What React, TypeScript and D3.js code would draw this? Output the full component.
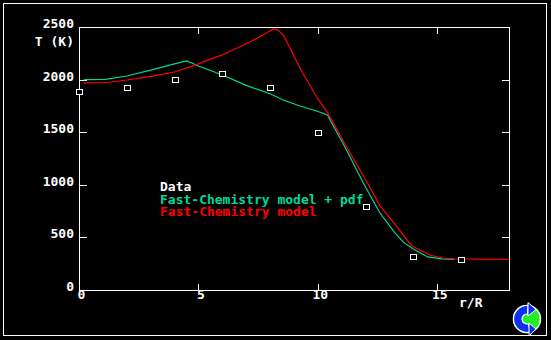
import React from "react";
import * as d3 from "d3";

// ---- data ----
const dataR = [0, 2, 4, 6, 8, 10, 12, 14, 16];
const dataT = [1882, 1920, 1996, 2055, 1920, 1492, 789, 314, 285];

const pdfR = [0.2, 1.1, 2, 3, 4, 4.5, 4.7, 5, 6, 7, 8, 8.55, 9.25, 9.95, 10.4, 11.2, 11.9, 12.6, 13.2, 13.6, 14.0, 14.6, 15.2, 15.7];
const pdfT = [2000, 2003, 2034, 2090, 2150, 2177, 2160, 2129, 2044, 1945, 1865, 1806, 1749, 1702, 1664, 1331, 1017, 732, 551, 450, 390, 314, 295, 292];

const modelR = [0.2, 1.1, 2, 3, 4, 5, 5.5, 6, 6.44, 7.15, 7.85, 8.13, 8.3, 8.55, 9.25, 9.95, 10.42, 11.25, 12.05, 12.6, 13.14, 13.92, 14.69, 15.2, 15.7, 18];
const modelT = [1968, 1970, 1996, 2030, 2072, 2150, 2195, 2235, 2281, 2357, 2443, 2481, 2475, 2424, 2110, 1835, 1681, 1340, 1027, 800, 649, 421, 333, 304, 295, 292];

const yTicks = [0, 500, 1000, 1500, 2000, 2500];
const xTicks = [0, 5, 10, 15];
const legendLabels = ["Data", "Fast-Chemistry model + pdf", "Fast-Chemistry model"];

const GREEN = "#00D898";
const RED = "#FF0000";
const FONT = "'DejaVu Sans Mono', monospace";

export default function App() {
  const W = 551, H = 340;
  const x = d3.scaleLinear().domain([0, 18]).range([79, 509]);
  const y = d3.scaleLinear().domain([0, 2500]).range([290, 27]);
  const line = d3.line<[number, number]>().x(d => x(d[0])).y(d => y(d[1]));
  const pdfPts = pdfR.map((r, i) => [r, pdfT[i]] as [number, number]);
  const modelPts = modelR.map((r, i) => [r, modelT[i]] as [number, number]);

  const txt = { fontFamily: FONT, fontWeight: "bold" as const, fontSize: 13 };
  const deg = Math.PI / 180;
  const cArc = d3.arc()({ innerRadius: 5, outerRadius: 13.5, startAngle: 165 * deg, endAngle: 365 * deg } as any) || "";

  return (
    <svg width={W} height={H} style={{ position: "absolute", left: 0, top: 0, background: "#000" }}>
      <rect x={0} y={0} width={W} height={H} fill="#000" />
      <rect x={3.5} y={3.5} width={543} height={332} fill="none" stroke="#fff" strokeWidth={1} shapeRendering="crispEdges" />
      {/* plot frame */}
      <rect x={x(0) + 0.5} y={y(2500) + 0.5} width={x(18) - x(0)} height={y(0) - y(2500)} fill="none" stroke="#fff" strokeWidth={1} shapeRendering="crispEdges" />
      {/* y ticks */}
      {yTicks.map(t => (
        <g key={"y" + t} shapeRendering="crispEdges" stroke="#fff">
          <line x1={x(0)} x2={x(0) + 8} y1={Math.round(y(t)) + 0.5} y2={Math.round(y(t)) + 0.5} />
          <line x1={x(18) - 7} x2={x(18)} y1={Math.round(y(t)) + 0.5} y2={Math.round(y(t)) + 0.5} />
        </g>
      ))}
      {yTicks.map(t => (
        <text key={"yl" + t} x={74} y={y(t) + 1} textAnchor="end" fill="#fff" {...txt}>{t}</text>
      ))}
      {/* x ticks */}
      {xTicks.map(t => (
        <g key={"x" + t} shapeRendering="crispEdges" stroke="#fff">
          <line x1={Math.round(x(t)) + 0.5} x2={Math.round(x(t)) + 0.5} y1={y(0) - 6} y2={y(0)} />
          <line x1={Math.round(x(t)) + 0.5} x2={Math.round(x(t)) + 0.5} y1={y(2500)} y2={y(2500) + 7} />
        </g>
      ))}
      {xTicks.map(t => (
        <text key={"xl" + t} x={x(t) + 2.5} y={299} textAnchor="middle" fill="#fff" {...txt}>{t}</text>
      ))}
      <text x={74} y={46} textAnchor="end" fill="#fff" {...txt}>T (K)</text>
      <text x={459} y={307} fill="#fff" {...txt}>r/R</text>

      {/* curves */}
      <path d={line(pdfPts) || ""} fill="none" stroke={GREEN} strokeWidth={1.2} />
      <path d={line(modelPts) || ""} fill="none" stroke={RED} strokeWidth={1.2} />

      {/* data squares */}
      {dataR.map((r, i) => (
        <rect key={"d" + i} x={Math.round(x(r)) - 2.5} y={Math.round(y(dataT[i])) - 2.5} width={6} height={5}
          fill="#000" stroke="#fff" strokeWidth={1} shapeRendering="crispEdges" />
      ))}

      {/* legend */}
      {legendLabels.map((l, i) => (
        <text key={l} x={160} y={191 + i * 12.5} fill={["#fff", GREEN, RED][i]} {...txt}>{l}</text>
      ))}

      {/* logo */}
      <g transform="translate(527,319)">
        <circle r={13.5} fill="#22EE22" stroke="#fff" strokeWidth={1.5} />
        <path d={cArc} fill="#1030F0" stroke="#fff" strokeWidth={1.2} />
        <path d="M1,-16.5 L9,-9.5 L1,-3 Z" fill="#1030F0" stroke="#fff" strokeWidth={1} />
        <path d="M2,17 L9,10 L2,4 Z" fill="#1030F0" stroke="#fff" strokeWidth={1} />
      </g>
    </svg>
  );
}
